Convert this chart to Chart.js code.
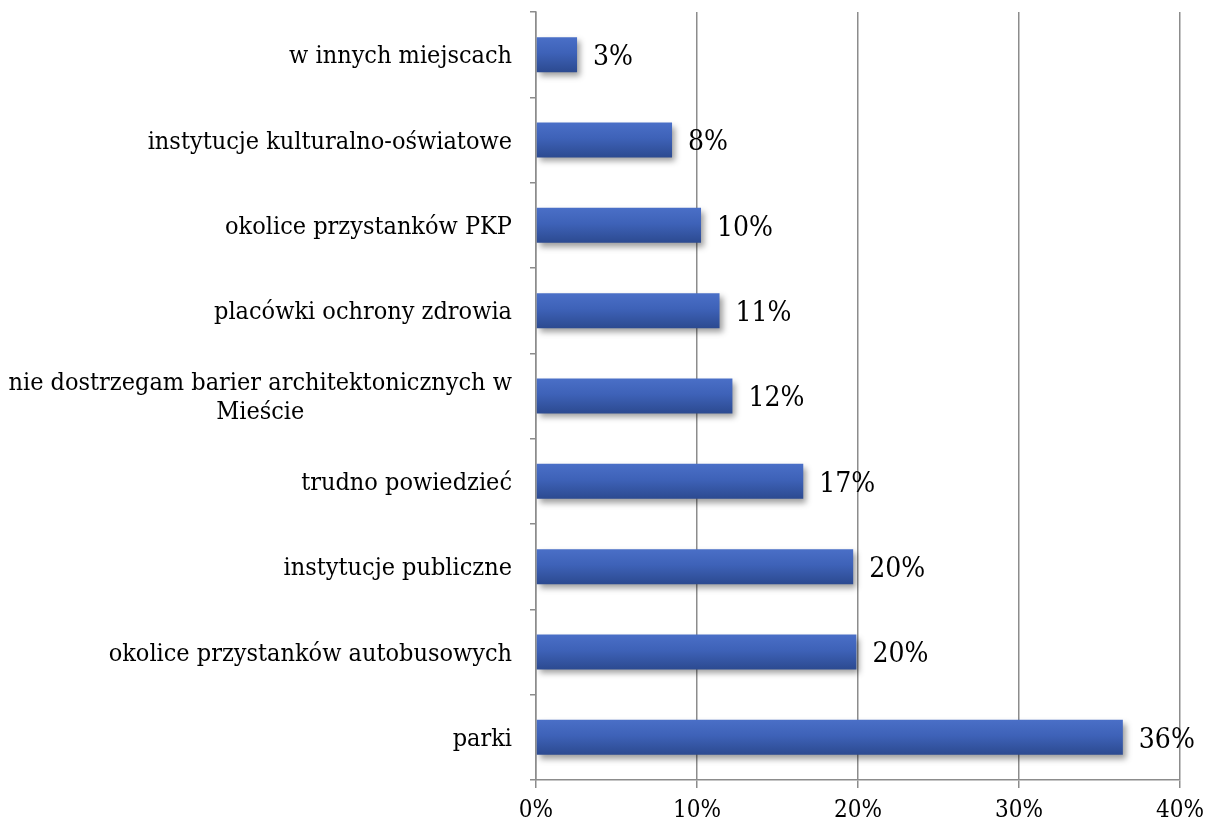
<!DOCTYPE html>
<html>
<head>
<meta charset="utf-8">
<script src="https://cdn.jsdelivr.net/npm/chart.js@4/dist/chart.umd.min.js"></script>
<style>
  html, body { margin: 0; padding: 0; background: #ffffff; }
  #wrap { width: 1210px; height: 826px; }
</style>
</head>
<body>
<div id="wrap"><canvas id="c" width="1210" height="826"></canvas></div>
<script>
const categories = [
  'w innych miejscach',
  'instytucje kulturalno-oświatowe',
  'okolice przystanków PKP',
  'placówki ochrony zdrowia',
  ['nie dostrzegam barier architektonicznych w', 'Mieście'],
  'trudno powiedzieć',
  'instytucje publiczne',
  'okolice przystanków autobusowych',
  'parki'
];
const values = [2.55, 8.45, 10.25, 11.4, 12.2, 16.6, 19.7, 19.9, 36.45];
const valueLabels = ['3%', '8%', '10%', '11%', '12%', '17%', '20%', '20%', '36%'];
const xTicks = [0, 10, 20, 30, 40];

const FONT = '"DejaVu Serif Condensed", "DejaVu Serif", serif';
const GRID = '#8c8c8c';
const BAR_PCT = 0.41;

function barFill(c) {
  const chart = c.chart;
  const ys = chart.scales && chart.scales.y;
  if (!ys || c.type !== 'data' || !isFinite(ys.height)) return '#3D5FB3';
  const center = ys.getPixelForValue(c.dataIndex);
  const h = (ys.height / categories.length) * BAR_PCT;
  const g = chart.ctx.createLinearGradient(0, center - h / 2, 0, center + h / 2);
  g.addColorStop(0, '#4a6fc7');
  g.addColorStop(0.45, '#3e62b8');
  g.addColorStop(1, '#2c4a90');
  return g;
}

const shadowPlugin = {
  id: 'barShadow',
  beforeDatasetsDraw(chart) {
    const ctx = chart.ctx;
    ctx.save();
    ctx.shadowColor = 'rgba(0,0,0,0.38)';
    ctx.shadowBlur = 6;
    ctx.shadowOffsetX = 3;
    ctx.shadowOffsetY = 4;
  },
  afterDatasetsDraw(chart) {
    chart.ctx.restore();
  }
};

const labelsPlugin = {
  id: 'labelsPlugin',
  afterDraw(chart) {
    const ctx = chart.ctx;
    const ys = chart.scales.y;
    ctx.save();
    ctx.fillStyle = '#000';
    ctx.font = '25px ' + FONT;
    ctx.textBaseline = 'middle';
    const right = ys.right - 24;
    const lh = 29;
    categories.forEach((cat, i) => {
      const lines = Array.isArray(cat) ? cat : [cat];
      const y0 = ys.getPixelForValue(i) + 2 - (lines.length - 1) * lh / 2;
      if (lines.length === 1) {
        ctx.textAlign = 'right';
        ctx.fillText(lines[0], right, y0);
      } else {
        const maxW = Math.max(...lines.map(l => ctx.measureText(l).width));
        ctx.textAlign = 'center';
        lines.forEach((l, j) => ctx.fillText(l, right - maxW / 2, y0 + j * lh));
      }
    });
    ctx.font = '28px ' + FONT;
    ctx.textAlign = 'left';
    const meta = chart.getDatasetMeta(0);
    meta.data.forEach((el, i) => {
      ctx.fillText(valueLabels[i], el.x + 16, el.y + 3);
    });
    ctx.restore();
  }
};

new Chart(document.getElementById('c'), {
  type: 'bar',
  data: {
    labels: categories,
    datasets: [{
      data: values,
      backgroundColor: barFill,
      borderWidth: 0,
      barPercentage: BAR_PCT,
      categoryPercentage: 1
    }]
  },
  options: {
    indexAxis: 'y',
    responsive: false,
    animation: false,
    devicePixelRatio: 1,
    layout: { padding: { top: 12, right: 30, left: 0, bottom: 0 } },
    plugins: { legend: { display: false }, tooltip: { enabled: false } },
    scales: {
      x: {
        type: 'linear',
        position: 'bottom',
        min: 0,
        max: 40,
        afterBuildTicks(s) { s.ticks = xTicks.map(v => ({ value: v })); },
        ticks: {
          callback: v => v + '%',
          color: '#000',
          font: { family: FONT, size: 24 },
          padding: 8,
          maxRotation: 0
        },
        grid: { color: GRID, lineWidth: 1.5, tickLength: 8, drawTicks: true },
        border: { color: GRID, width: 1.5 },
        afterFit(s) { s.height = 46; s.paddingRight = 0; s.paddingLeft = 0; }
      },
      y: {
        type: 'category',
        ticks: { display: false },
        grid: { color: GRID, lineWidth: 1.5, drawOnChartArea: false, drawTicks: true, tickLength: 6, offset: true },
        border: { color: GRID, width: 1.5 },
        afterFit(s) { s.width = 536; }
      }
    }
  },
  plugins: [shadowPlugin, labelsPlugin]
});
</script>
</body>
</html>
